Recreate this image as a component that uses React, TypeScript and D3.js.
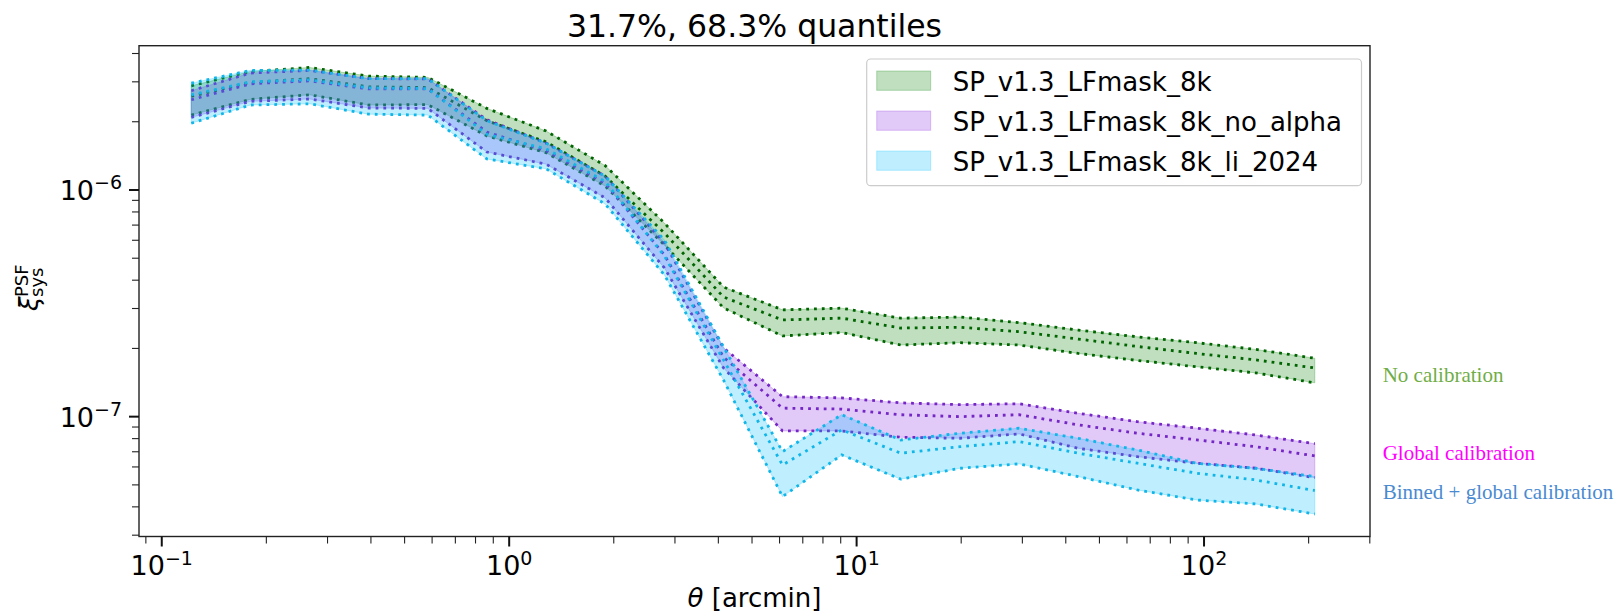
import React from "react";
import * as d3 from "d3";

// angular bins (arcmin)
const theta = [0.1216, 0.1799, 0.2663, 0.394, 0.583, 0.863, 1.277, 1.89, 2.797, 4.14, 6.12, 9.06, 13.4, 19.84, 29.36, 43.45, 64.3, 95.2, 140.8, 208.4];

// SP_v1.3_LFmask_8k (no calibration)
const greenHigh = [2.88e-6, 3.33e-6, 3.47e-6, 3.18e-6, 3.14e-6, 2.29e-6, 1.82e-6, 1.28e-6, 7.15e-7, 3.73e-7, 2.96e-7, 3.01e-7, 2.72e-7, 2.75e-7, 2.60e-7, 2.41e-7, 2.25e-7, 2.12e-7, 1.98e-7, 1.81e-7];
const greenMid = [2.59e-6, 2.98e-6, 3.10e-6, 2.85e-6, 2.83e-6, 2.02e-6, 1.63e-6, 1.15e-6, 6.46e-7, 3.37e-7, 2.67e-7, 2.72e-7, 2.46e-7, 2.48e-7, 2.37e-7, 2.20e-7, 2.04e-7, 1.90e-7, 1.78e-7, 1.64e-7];
const greenLow = [2.14e-6, 2.51e-6, 2.63e-6, 2.37e-6, 2.38e-6, 1.73e-6, 1.46e-6, 1.04e-6, 5.72e-7, 3.02e-7, 2.27e-7, 2.35e-7, 2.07e-7, 2.12e-7, 2.07e-7, 1.90e-7, 1.77e-7, 1.66e-7, 1.56e-7, 1.41e-7];

// SP_v1.3_LFmask_8k_no_alpha (global calibration)
const purpleHigh = [2.74e-6, 3.28e-6, 3.37e-6, 3.10e-6, 3.09e-6, 2.04e-6, 1.61e-6, 1.15e-6, 5.84e-7, 2.01e-7, 1.225e-7, 1.21e-7, 1.15e-7, 1.13e-7, 1.14e-7, 1.035e-7, 9.5e-8, 8.9e-8, 8.3e-8, 7.6e-8];
const purpleMid = [2.50e-6, 2.94e-6, 3.03e-6, 2.79e-6, 2.79e-6, 1.80e-6, 1.49e-6, 1.07e-6, 5.17e-7, 1.83e-7, 1.09e-7, 1.08e-7, 1.02e-7, 1.00e-7, 1.02e-7, 9.2e-8, 8.45e-8, 7.9e-8, 7.37e-8, 6.71e-8];
const purpleLow = [2.09e-6, 2.46e-6, 2.52e-6, 2.30e-6, 2.29e-6, 1.47e-6, 1.30e-6, 9.22e-7, 4.53e-7, 1.64e-7, 8.65e-8, 8.65e-8, 8.11e-8, 8.03e-8, 8.39e-8, 7.25e-8, 6.66e-8, 6.23e-8, 5.92e-8, 5.38e-8];

// SP_v1.3_LFmask_8k_li_2024 (binned + global calibration)
const cyanHigh = [2.96e-6, 3.37e-6, 3.38e-6, 3.10e-6, 3.10e-6, 2.02e-6, 1.61e-6, 1.15e-6, 6.02e-7, 2.03e-7, 7.01e-8, 1.02e-7, 7.89e-8, 8.45e-8, 8.89e-8, 8.03e-8, 7.13e-8, 6.23e-8, 5.92e-8, 5.44e-8];
const cyanMid = [2.63e-6, 3.00e-6, 3.06e-6, 2.82e-6, 2.80e-6, 1.76e-6, 1.52e-6, 1.09e-6, 5.12e-7, 1.78e-7, 6.12e-8, 8.74e-8, 6.90e-8, 7.37e-8, 7.76e-8, 6.90e-8, 6.23e-8, 5.63e-8, 5.26e-8, 4.72e-8];
const cyanLow = [1.97e-6, 2.37e-6, 2.40e-6, 2.16e-6, 2.14e-6, 1.37e-6, 1.24e-6, 8.67e-7, 4.22e-7, 1.45e-7, 4.44e-8, 6.78e-8, 5.30e-8, 5.92e-8, 6.19e-8, 5.44e-8, 4.75e-8, 4.29e-8, 4.12e-8, 3.72e-8];

const seriesNames = ["SP_v1.3_LFmask_8k", "SP_v1.3_LFmask_8k_no_alpha", "SP_v1.3_LFmask_8k_li_2024"];
const seriesLow = [greenLow, purpleLow, cyanLow];
const seriesMid = [greenMid, purpleMid, cyanMid];
const seriesHigh = [greenHigh, purpleHigh, cyanHigh];
const seriesFill = ["#008000", "#8a2be2", "#00bfff"];
const seriesLine = ["#006400", "#7427c4", "#12b5e8"];

const xMajor = [0.1, 1, 10, 100];
const xMajorExp = ["\u22121", "0", "1", "2"];
const yMajor = [1e-7, 1e-6];
const yMajorExp = ["\u22127", "\u22126"];

const annotationTexts = ["No calibration", "Global calibration", "Binned + global calibration"];
const annotationColors = ["#70ad47", "#ff00ff", "#4a8ad0"];

const titleText = "31.7%, 68.3% quantiles";

const W = 1621;
const H = 614;
const L = 139;
const R = 1370;
const T = 45.7;
const B = 536.5;

export default function App() {
  const x = d3.scaleLog().domain([0.086, 300.4]).range([L, R]);
  const y = d3.scaleLog().domain([2.96e-8, 4.33e-6]).range([B, T]);

  const xMinor = x.ticks(40).filter((t) => !xMajor.some((m) => Math.abs(m - t) / m < 1e-6));
  const yMinor = y.ticks(40).filter((t) => !yMajor.some((m) => Math.abs(m - t) / m < 1e-6));

  const font = "DejaVu Sans, Verdana, sans-serif";

  const bands = seriesNames.map((_, s) => {
    const pts = theta.map((t, i) => ({ t, lo: seriesLow[s][i], mid: seriesMid[s][i], hi: seriesHigh[s][i] }));
    const area = d3
      .area<any>()
      .x((d) => x(d.t))
      .y0((d) => y(d.lo))
      .y1((d) => y(d.hi));
    const line = (k: string) =>
      d3
        .line<any>()
        .x((d) => x(d.t))
        .y((d) => y(d[k]))(pts) as string;
    return { area: area(pts) as string, lines: [line("lo"), line("mid"), line("hi")] };
  });

  return (
    <div style={{ position: "absolute", left: 0, top: 0 }}>
      <svg width={W} height={H} style={{ display: "block", background: "white" }}>
        <rect x={0} y={0} width={W} height={H} fill="white" />
        <defs>
          <clipPath id="plotclip">
            <rect x={L} y={T} width={R - L} height={B - T} />
          </clipPath>
        </defs>

        {/* title */}
        <text x={(L + R) / 2} y={36.5} textAnchor="middle" fontFamily={font} fontSize={31.5} fill="#000">
          {titleText}
        </text>

        {/* bands */}
        <g clipPath="url(#plotclip)">
          {bands.map((b, s) => (
            <g key={s}>
              <path d={b.area} fill={seriesFill[s]} fillOpacity={0.25} stroke={seriesFill[s]} strokeOpacity={0.25} strokeWidth={1} />
              {b.lines.map((d, k) => (
                <path key={k} d={d} fill="none" stroke={seriesLine[s]} strokeWidth={2.8} strokeDasharray="2.8 5" />
              ))}
            </g>
          ))}
        </g>

        {/* frame */}
        <rect x={L} y={T} width={R - L} height={B - T} fill="none" stroke="#222" strokeWidth={1.4} />

        {/* x ticks */}
        {xMinor.map((t, i) => (
          <line key={"xm" + i} x1={x(t)} x2={x(t)} y1={B} y2={B + 7} stroke="#222" strokeWidth={1.1} />
        ))}
        {xMajor.map((t, i) => (
          <g key={"xM" + i}>
            <line x1={x(t)} x2={x(t)} y1={B} y2={B + 10} stroke="#111" strokeWidth={2} />
            <text x={x(t)} y={B + 38.5} textAnchor="middle" fontFamily={font} fontSize={27} fill="#000">
              10
              <tspan dy={-10.5} fontSize={19}>
                {xMajorExp[i]}
              </tspan>
            </text>
          </g>
        ))}

        {/* y ticks */}
        {yMinor.map((t, i) => (
          <line key={"ym" + i} x1={L - 7} x2={L} y1={y(t)} y2={y(t)} stroke="#222" strokeWidth={1.1} />
        ))}
        {yMajor.map((t, i) => (
          <g key={"yM" + i}>
            <line x1={L - 10} x2={L} y1={y(t)} y2={y(t)} stroke="#111" strokeWidth={2} />
            <text x={122} y={y(t) + 10} textAnchor="end" fontFamily={font} fontSize={27} fill="#000">
              10
              <tspan dy={-10.5} fontSize={19}>
                {yMajorExp[i]}
              </tspan>
            </text>
          </g>
        ))}

        {/* axis labels */}
        <text x={(L + R) / 2} y={607} textAnchor="middle" fontFamily={font} fontSize={26} fill="#000">
          <tspan fontStyle="italic">θ</tspan> [arcmin]
        </text>
        <g transform="translate(38, 311) rotate(-90)">
          <text x={0} y={0} fontFamily={font} fontSize={26} fontStyle="italic" fill="#000">
            ξ
          </text>
          <text x={14} y={-10} fontFamily={font} fontSize={18} fill="#000">
            PSF
          </text>
          <text x={14} y={5} fontFamily={font} fontSize={18} fill="#000">
            sys
          </text>
        </g>

        {/* legend */}
        <rect x={866.7} y={59} width={494.8} height={126.7} rx={4} fill="white" fillOpacity={0.8} stroke="#cccccc" strokeWidth={1.2} />
        {seriesNames.map((n, s) => (
          <g key={"lg" + s}>
            <rect x={876.7} y={71 + s * 40} width={54} height={19.3} fill={seriesFill[s]} fillOpacity={0.25} stroke={seriesFill[s]} strokeOpacity={0.25} />
            <text x={952.7} y={91 + s * 39.8} fontFamily={font} fontSize={26} fill="#000">
              {n}
            </text>
          </g>
        ))}

        {/* right annotations */}
        {annotationTexts.map((t, i) => (
          <text key={"an" + i} x={1382.7} y={[381.7, 460, 499][i]} fontFamily="Liberation Serif, Times New Roman, serif" fontSize={21} fill={annotationColors[i]}>
            {t}
          </text>
        ))}
      </svg>
    </div>
  );
}
